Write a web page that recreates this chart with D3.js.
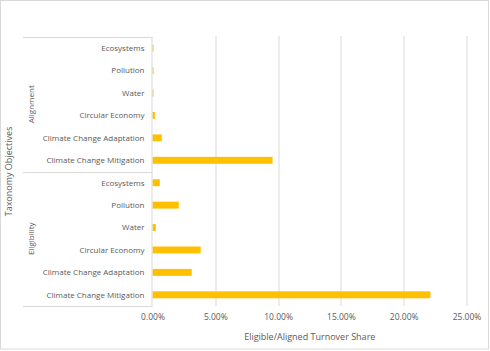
<!DOCTYPE html>
<html>
<head>
<meta charset="utf-8">
<script src="https://cdn.jsdelivr.net/npm/d3@7"></script>
<style>
  body { margin: 0; background: #fff; }
  svg text { font-family: "Open Sans", "Liberation Sans", sans-serif; fill: #595959; }
</style>
</head>
<body>
<div id="chart"></div>
<script>
// Categories (top to bottom within each group)
const objectives = ["Ecosystems", "Pollution", "Water", "Circular Economy", "Climate Change Adaptation", "Climate Change Mitigation"];
const groups = ["Alignment", "Eligibility"];

// Share values (fraction of turnover)
const alignmentValues = [0.0004, 0.0004, 0.0004, 0.0019, 0.0074, 0.0956];
const eligibilityValues = [0.0058, 0.0209, 0.0026, 0.0384, 0.0312, 0.2213];

const xTicks = [0, 0.05, 0.10, 0.15, 0.20, 0.25];

const width = 490, height = 351;
const margin = { top: 37, right: 23, bottom: 45, left: 152.5 };
const plotW = width - margin.left - margin.right;
const plotH = height - margin.top - margin.bottom;

let rows = [];
groups.forEach((g, gi) => {
    let vals = gi == 0 ? alignmentValues : eligibilityValues;
    objectives.forEach((o, i) => {
        rows.push({ key: g + "|" + o, group: g, label: o, value: vals[i] });
    });
});

let svg = d3.select("#chart").append("svg")
    .attr("width", width)
    .attr("height", height);

// outer border
svg.append("rect")
    .attr("x", 0.5).attr("y", 0.5)
    .attr("width", width - 2).attr("height", height - 2.5)
    .attr("fill", "#fff")
    .attr("stroke", "#d9d9d9");

let g = svg.append("g")
    .attr("transform", "translate(" + margin.left + "," + margin.top + ")");

let x = d3.scaleLinear()
    .domain([0, 0.25])
    .range([0, plotW - 0.5]);

let y = d3.scaleBand()
    .domain(rows.map(d => d.key))
    .range([0, plotH])
    .paddingInner(0.69)
    .paddingOuter(0.345);

// gridlines
g.selectAll(".grid")
    .data(xTicks.slice(1))
    .enter().append("line")
    .attr("class", "grid")
    .attr("x1", d => Math.round(x(d)) + 0.5)
    .attr("x2", d => Math.round(x(d)) + 0.5)
    .attr("y1", -1)
    .attr("y2", plotH)
    .attr("stroke", "#d9d9d9");

// x axis tick labels
let xAxis = d3.axisBottom(x)
    .tickValues(xTicks)
    .tickFormat(d3.format(".2%"))
    .tickSize(0)
    .tickPadding(8);

let xg = g.append("g")
    .attr("transform", "translate(0," + plotH + ")")
    .call(xAxis);
xg.select(".domain").remove();
xg.selectAll("text").attr("font-size", 8.5).style("fill", "#595959");

// bars
g.selectAll(".bar")
    .data(rows)
    .enter().append("rect")
    .attr("class", "bar")
    .attr("x", 0)
    .attr("y", d => y(d.key))
    .attr("width", d => Math.max(x(d.value), 1))
    .attr("height", y.bandwidth())
    .attr("fill", "#ffc000");

// category labels
g.selectAll(".cat")
    .data(rows)
    .enter().append("text")
    .attr("class", "cat")
    .attr("x", -8)
    .attr("y", d => y(d.key) + y.bandwidth() / 2)
    .attr("dy", "0.35em")
    .attr("text-anchor", "end")
    .attr("font-size", 8)
    .text(d => d.label);

// group box lines
let boxLeft = 23 - margin.left;
let groupEdges = [0, plotH / 2, plotH];
g.selectAll(".gline")
    .data(groupEdges)
    .enter().append("line")
    .attr("class", "gline")
    .attr("x1", boxLeft)
    .attr("x2", 0)
    .attr("y1", d => Math.round(d) + 0.5)
    .attr("y2", d => Math.round(d) + 0.5)
    .attr("stroke", "#d9d9d9");

g.append("line")
    .attr("x1", -0.5).attr("x2", -0.5)
    .attr("y1", 0).attr("y2", plotH + 0.5)
    .attr("stroke", "#d9d9d9");

// group labels
g.selectAll(".glabel")
    .data(groups)
    .enter().append("text")
    .attr("class", "glabel")
    .attr("transform", (d, i) => "translate(" + (31 - margin.left) + "," + (plotH / 4 + i * plotH / 2) + ") rotate(-90)")
    .attr("text-anchor", "middle")
    .attr("dy", "0.35em")
    .attr("font-size", 8)
    .text(d => d);

// Y axis title
svg.append("text")
    .attr("transform", "translate(9," + (margin.top + plotH / 2) + ") rotate(-90)")
    .attr("text-anchor", "middle")
    .attr("dy", "0.35em")
    .attr("font-size", 9)
    .text("Taxonomy Objectives");

// X axis title
svg.append("text")
    .attr("x", margin.left + plotW / 2)
    .attr("y", 337)
    .attr("dy", "0.35em")
    .attr("text-anchor", "middle")
    .attr("font-size", 9)
    .text("Eligible/Aligned Turnover Share");
</script>
</body>
</html>
